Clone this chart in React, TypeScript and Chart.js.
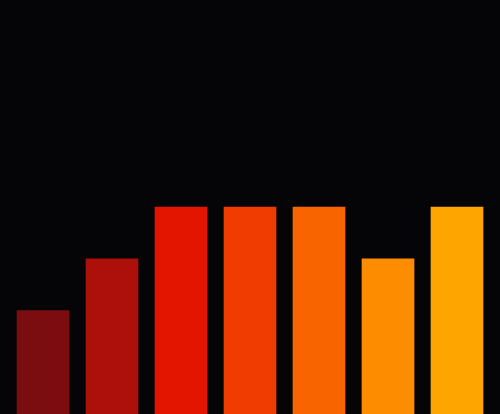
import { useRef, useEffect } from 'react';
import Chart from 'chart.js/auto';

const categories = ['A', 'B', 'C', 'D', 'E', 'F', 'G'];
const values = [2, 3, 4, 4, 4, 3, 4];
const barColors = ['#7b0d10', '#ad0f0a', '#e31400', '#f03c00', '#f86400', '#fe8c00', '#ffa500'];
const yMax = 8;

export default function App() {
    const chartRef = useRef<HTMLCanvasElement>(null);

    useEffect(() => {
        if (!chartRef.current) return;
        const chart = new Chart(chartRef.current, {
            type: 'bar',
            data: {
                labels: categories,
                datasets: [{
                    data: values,
                    backgroundColor: barColors,
                    borderWidth: 0,
                    barThickness: 52,
                }]
            },
            options: {
                animation: false,
                responsive: true,
                maintainAspectRatio: false,
                layout: { padding: { left: 8.5, right: 8.5, top: 0, bottom: 0 } },
                plugins: {
                    legend: { display: false },
                    tooltip: { enabled: false }
                },
                scales: {
                    x: { display: false },
                    y: { display: false, min: 0, max: yMax }
                }
            }
        });
        return () => {
            chart.destroy();
        };
    }, []);

    return (
        <div style={{ position: 'fixed', left: 0, top: 0, width: 500, height: 414, background: '#050507' }}>
            <canvas ref={chartRef}></canvas>
        </div>
    );
}
